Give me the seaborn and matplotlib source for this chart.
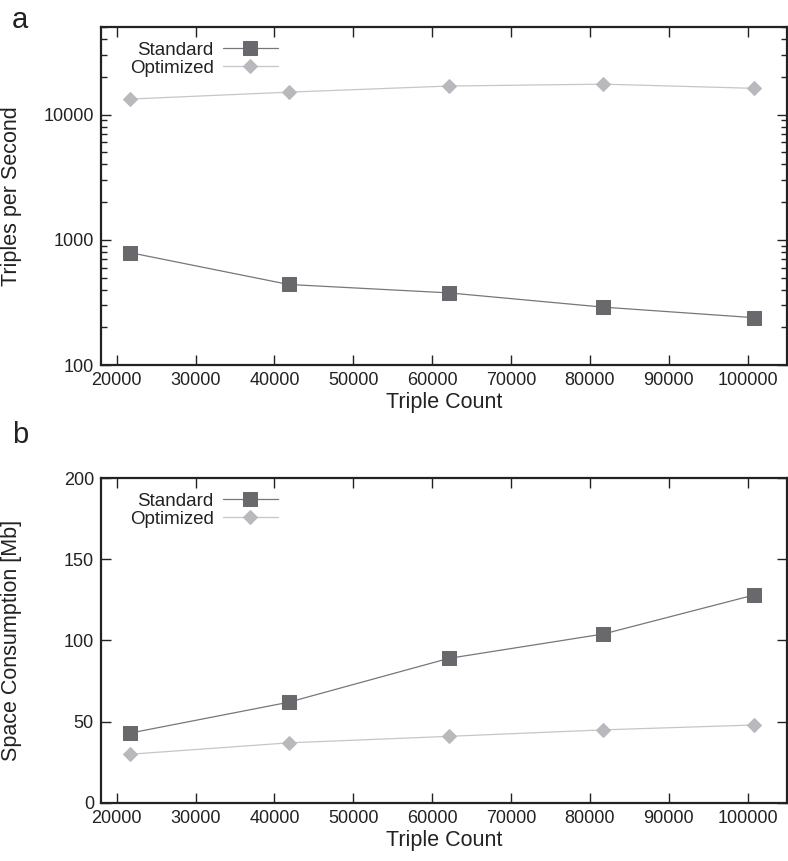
import matplotlib
matplotlib.use("Agg")
import matplotlib.pyplot as plt
import matplotlib.ticker as mticker
import seaborn as sns
import pandas as pd

# triple counts (x)
triple_count = [21700, 41800, 62100, 81700, 100800]

# panel a: triples per second (log scale)
tps_standard = [790, 440, 377, 290, 239]
tps_optimized = [13300, 15100, 16900, 17500, 16200]

# panel b: space consumption in Mb
space_standard = [43, 62, 89, 104, 128]
space_optimized = [30, 37, 41, 45, 48]

series_names = ["Standard", "Optimized"]
colors = {"Standard": "#68686d", "Optimized": "#b9b9bd"}
line_colors = {"Standard": "#77777a", "Optimized": "#c6c6c8"}
markers = {"Standard": "s", "Optimized": "D"}
marker_sizes = {"Standard": 10, "Optimized": 7}


def long_frame(std, opt):
    return pd.DataFrame({
        "Triple Count": triple_count * 2,
        "value": std + opt,
        "series": ["Standard"] * len(std) + ["Optimized"] * len(opt),
    })


sns.set_theme(style="ticks")
plt.rcParams["font.family"] = ["Liberation Sans", "DejaVu Sans"]
plt.rcParams["font.size"] = 13
plt.rcParams["text.color"] = "#222222"
plt.rcParams["axes.labelcolor"] = "#222222"
plt.rcParams["xtick.color"] = "#222222"
plt.rcParams["ytick.color"] = "#222222"

fig = plt.figure(figsize=(7.88, 8.61), dpi=100)
ax_a = fig.add_axes([0.128, 0.576, 0.871, 0.3926])
ax_b = fig.add_axes([0.128, 0.0674, 0.871, 0.3774])


def draw(ax, df):
    for name in series_names:
        sub = df[df["series"] == name]
        sns.lineplot(data=sub, x="Triple Count", y="value", ax=ax,
                     color=line_colors[name], linewidth=0.9,
                     marker=markers[name], markersize=marker_sizes[name],
                     markerfacecolor=colors[name], markeredgecolor=colors[name],
                     label=name)
    ax.set_xlim(18000, 105000)
    ax.xaxis.set_major_locator(mticker.MultipleLocator(10000))
    ax.tick_params(which="both", direction="in", top=True, right=True,
                   labelsize=13, width=1, color="#222222")
    ax.tick_params(which="major", length=7, pad=5)
    ax.tick_params(which="minor", length=4)
    for sp in ax.spines.values():
        sp.set_linewidth(1.6)
        sp.set_color("#222222")
    ax.set_xlabel("Triple Count", fontsize=15.5, labelpad=2)
    leg = ax.legend(loc="upper left", bbox_to_anchor=(0.026, 0.99),
                    frameon=False, markerfirst=False, handlelength=2.9,
                    handletextpad=0.5, labelspacing=0.05, fontsize=13.5,
                    borderaxespad=0.2)
    return leg


draw(ax_a, long_frame(tps_standard, tps_optimized))
ax_a.set_yscale("log")
ax_a.set_ylim(100, 50000)
ax_a.yaxis.set_major_locator(mticker.LogLocator(base=10))
ax_a.yaxis.set_major_formatter(mticker.FuncFormatter(lambda v, _: f"{v:g}"))
ax_a.yaxis.set_minor_locator(mticker.LogLocator(base=10, subs=range(2, 10)))
ax_a.yaxis.set_minor_formatter(mticker.NullFormatter())
ax_a.set_ylabel("Triples per Second", fontsize=15.5)
ax_a.yaxis.set_label_coords(-0.115, 0.5)

draw(ax_b, long_frame(space_standard, space_optimized))
ax_b.set_ylim(0, 200)
ax_b.yaxis.set_major_locator(mticker.MultipleLocator(50))
ax_b.set_ylabel("Space Consumption [Mb]", fontsize=15.5)
ax_b.yaxis.set_label_coords(-0.115, 0.5)

fig.text(0.015, 0.977, "a", fontsize=21, va="center", ha="left")
fig.text(0.015, 0.495, "b", fontsize=21, va="center", ha="left")

fig.savefig("out.png", dpi=100)
